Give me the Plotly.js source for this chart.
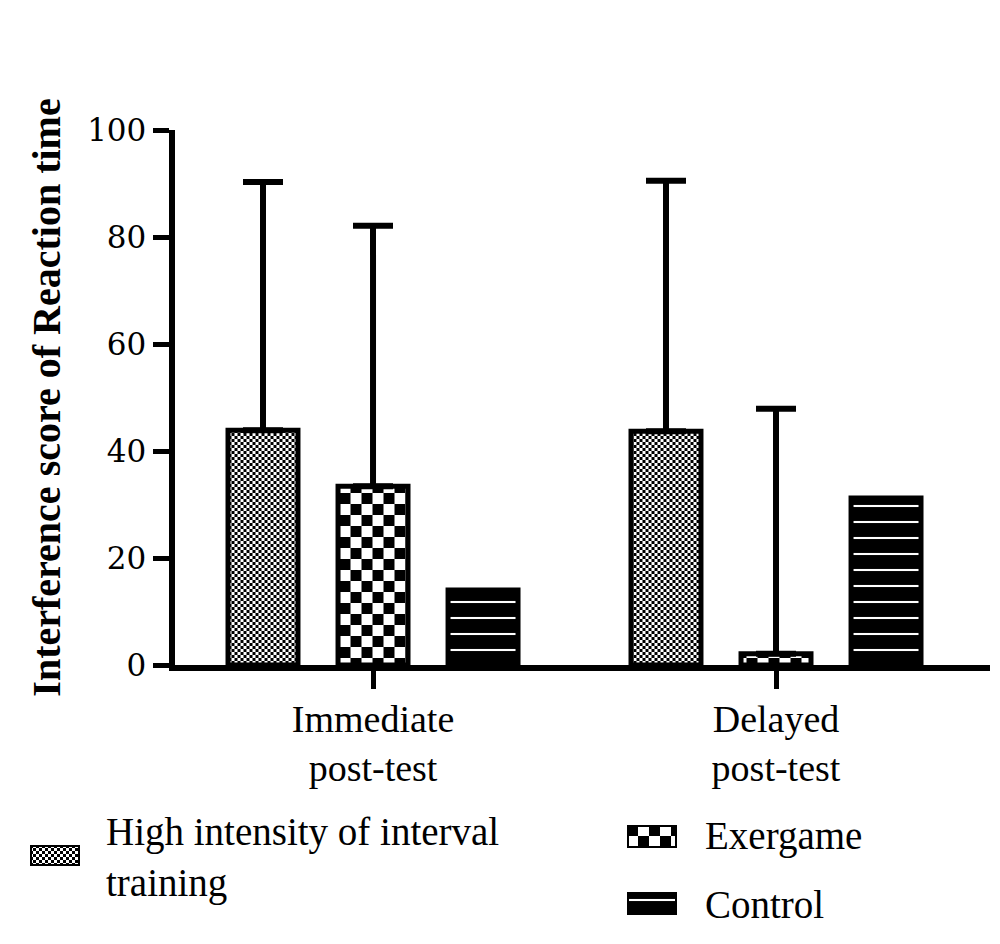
<!DOCTYPE html>
<html>
<head>
<meta charset="utf-8">
<script src="https://cdn.plot.ly/plotly-3.0.1.min.js"></script>
<style>
    html, body { margin: 0; padding: 0; background: #fff; }
    #chart { width: 1000px; height: 944px; }
</style>
</head>
<body>
<div id="chart"></div>
<script>
// ============================================================================
// Data
// ============================================================================

const categories = ['Immediate<br>post-test', 'Delayed<br>post-test'];
const yTicks = [0, 20, 40, 60, 80, 100];

const hiitMean = [43.9, 43.7];
const hiitSD = [46.4, 46.8];
const exergameMean = [33.4, 2.1];
const exergameSD = [48.7, 45.8];
const controlMean = [14.0, 31.2];

const seriesNames = ['High intensity of interval<br>training', 'Exergame', 'Control'];
const swatchValue = [1];

// ============================================================================
// Styles
// ============================================================================

const INK = '#000000';
const SERIF = '"Liberation Serif", "Times New Roman", serif';
const TICK_FONT = '"DejaVu Serif", serif';

const PATTERNS = {
    hiit: { shape: '.', size: 6, solidity: 0.5, fgcolor: INK, bgcolor: '#ffffff', fillmode: 'replace' },
    exergame: { shape: '.', size: 22, solidity: 0.5, fgcolor: INK, bgcolor: '#ffffff', fillmode: 'replace' },
    control: { shape: '-', size: 16, solidity: 0.13, fgcolor: '#ffffff', bgcolor: INK, fillmode: 'replace' }
};

const errorStyle = (sd) => ({
    type: 'data',
    array: sd,
    symmetric: false,
    color: INK,
    thickness: 6,
    width: 20
});

// ============================================================================
// Traces
// ============================================================================

function mainBar(name, values, pattern, sd) {
    return {
        type: 'bar',
        name: name,
        x: categories,
        y: values,
        marker: {
            color: pattern.bgcolor,
            pattern: pattern,
            line: { color: INK, width: 5 }
        },
        error_y: sd ? errorStyle(sd) : { visible: false },
        showlegend: false,
        hoverinfo: 'skip'
    };
}

/**
 * Legend key drawn as a full-size bar on its own hidden axis pair.
 */
function swatchBar(axisNum, pattern) {
    return {
        type: 'bar',
        x: [0],
        y: swatchValue,
        width: 1,
        xaxis: 'x' + axisNum,
        yaxis: 'y' + axisNum,
        marker: {
            color: pattern.bgcolor,
            pattern: pattern,
            line: { color: INK, width: 4 }
        },
        showlegend: false,
        hoverinfo: 'skip'
    };
}

const traces = [
    mainBar(seriesNames[0], hiitMean, PATTERNS.hiit, hiitSD),
    mainBar(seriesNames[1], exergameMean, PATTERNS.exergame, exergameSD),
    mainBar(seriesNames[2], controlMean, PATTERNS.control, null),
    swatchBar(2, PATTERNS.hiit),
    swatchBar(3, PATTERNS.exergame),
    swatchBar(4, PATTERNS.control)
];

// ============================================================================
// Layout
// ============================================================================

const W = 1000, H = 944;
const px = (x) => x / W;
const py = (y) => 1 - y / H;

const hiddenAxis = (domain, anchor, range) => ({
    domain: domain, anchor: anchor, range: range,
    visible: false, fixedrange: true
});

const legendFont = { family: SERIF, size: 39, color: INK };

const layout = {
    width: W,
    height: H,
    paper_bgcolor: '#ffffff',
    plot_bgcolor: '#ffffff',
    margin: { l: 0, r: 0, t: 0, b: 0 },
    barmode: 'group',
    bargap: 0.181,
    bargroupgap: 0.364,
    showlegend: false,
    font: { family: SERIF, color: INK },
    xaxis: {
        domain: [px(174.5), px(990)],
        anchor: 'y',
        type: 'category',
        range: [-0.4926, 1.531],
        showline: true,
        linecolor: INK,
        linewidth: 6,
        ticks: 'outside',
        ticklen: 18,
        tickwidth: 5,
        tickcolor: INK,
        tickfont: { family: SERIF, size: 38, color: INK },
        ticklabelstandoff: -3,
        showgrid: false,
        zeroline: false,
        automargin: false,
        fixedrange: true
    },
    yaxis: {
        domain: [py(665), py(130)],
        anchor: 'x',
        range: [0, 100],
        tickvals: yTicks,
        showline: true,
        linecolor: INK,
        linewidth: 6,
        ticks: 'outside',
        ticklen: 16,
        tickwidth: 5,
        tickcolor: INK,
        tickfont: { family: TICK_FONT, size: 31, color: INK },
        showgrid: false,
        zeroline: false,
        automargin: false,
        fixedrange: true,
        title: {
            text: 'Interference score of Reaction time',
            font: { family: SERIF, size: 40, color: INK, weight: 'bold' },
            standoff: 16
        }
    },
    xaxis2: hiddenAxis([px(30), px(80)], 'y2', [-0.5, 0.5]),
    yaxis2: hiddenAxis([py(866), py(845)], 'x2', [0, 1]),
    xaxis3: hiddenAxis([px(627), px(677)], 'y3', [-0.5, 0.5]),
    yaxis3: hiddenAxis([py(848), py(825)], 'x3', [0, 1]),
    xaxis4: hiddenAxis([px(627), px(677)], 'y4', [-0.5, 0.5]),
    yaxis4: hiddenAxis([py(915), py(892)], 'x4', [0, 1]),
    annotations: [
        { text: seriesNames[0], x: px(104), y: py(857), align: 'left' },
        { text: seriesNames[1], x: px(703), y: py(836), align: 'left' },
        { text: seriesNames[2], x: px(703), y: py(904), align: 'left' }
    ].map(a => Object.assign({
        xref: 'paper', yref: 'paper',
        xanchor: 'left', yanchor: 'middle',
        showarrow: false, font: legendFont
    }, a))
};

// ============================================================================
// Checkerboard fills
// ============================================================================

/**
 * Plotly has no checkerboard pattern, so the dot tiles it writes into <defs>
 * are turned into two-square checker tiles of the same size and colour.
 */
function paintCheckers(gd) {
    const NS = 'http://www.w3.org/2000/svg';
    gd.querySelectorAll('defs pattern').forEach(tile => {
        const dot = tile.querySelector('circle');
        if (!dot) return;
        const s = parseFloat(tile.getAttribute('width'));
        const fg = dot.getAttribute('fill') || INK;
        dot.remove();
        [[0, 0], [s / 2, s / 2]].forEach(([x, y]) => {
            const sq = document.createElementNS(NS, 'rect');
            sq.setAttribute('x', x);
            sq.setAttribute('y', y);
            sq.setAttribute('width', s / 2);
            sq.setAttribute('height', s / 2);
            sq.setAttribute('fill', fg);
            tile.appendChild(sq);
        });
    });
}

const gd = document.getElementById('chart');
Plotly.newPlot(gd, traces, layout, { displayModeBar: false, staticPlot: true })
    .then(paintCheckers);
</script>
</body>
</html>
